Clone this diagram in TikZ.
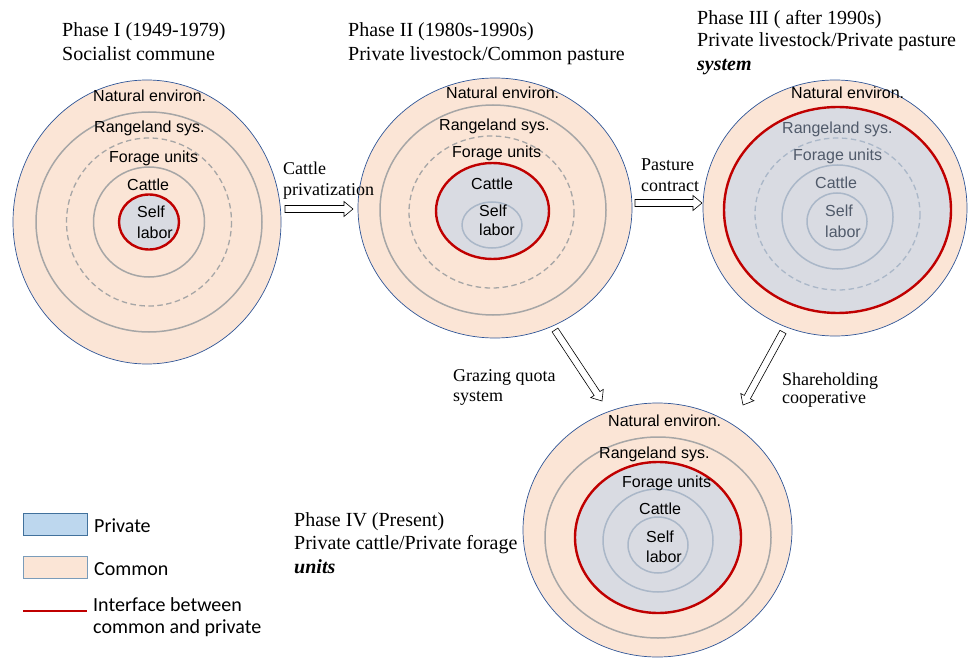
\documentclass[tikz,border=0pt]{standalone}
\usepackage{fontspec}
\setmainfont{Liberation Serif}
\setsansfont{Liberation Sans}
\newfontfamily\legendfont{Carlito}
\usetikzlibrary{calc}

\definecolor{commonfill}{RGB}{251,229,214}
\definecolor{privatefill}{RGB}{217,219,226}
\definecolor{legendblue}{RGB}{189,215,238}
\definecolor{legendedge}{RGB}{65,113,156}
\definecolor{rimblue}{RGB}{47,85,151}
\definecolor{greyline}{RGB}{166,166,166}
\definecolor{slateline}{RGB}{170,183,200}
\definecolor{redline}{RGB}{192,0,0}
\definecolor{fadetext}{RGB}{80,90,106}

% hollow block arrow between two named points
\newcommand{\hollowarrow}[2]{%
  \coordinate (hb) at ($(#2)!9pt!(#1)$);
  \draw[blockarrow] ($(#1)!3.5pt!90:(#2)$) -- ($(hb)!3.5pt!90:(#2)$) -- ($(hb)!7.5pt!90:(#2)$)
    -- (#2) -- ($(hb)!7.5pt!-90:(#2)$) -- ($(hb)!3.5pt!-90:(#2)$) -- ($(#1)!3.5pt!-90:(#2)$) -- cycle;
}

\tikzset{
  commonarea/.style={draw=rimblue, line width=0.7pt, fill=commonfill},
  privatearea/.style={draw=redline, line width=2.4pt, fill=privatefill},
  greyring/.style={draw=greyline, line width=1.5pt},
  greydash/.style={draw=greyline, line width=1.3pt, dash pattern=on 5.5pt off 3.5pt},
  slatering/.style={draw=slateline, line width=1.5pt},
  slatedash/.style={draw=slateline, line width=1.3pt, dash pattern=on 5.5pt off 3.5pt},
  blockarrow/.style={draw=black, line width=0.6pt, fill=white},
  lab/.style={anchor=base west, inner sep=0pt, font=\sffamily\fontsize{16}{20}\selectfont},
  phase/.style={anchor=base west, inner sep=0pt, font=\fontsize{20}{24}\selectfont},
  step label/.style={anchor=base west, inner sep=0pt, font=\fontsize{18}{21}\selectfont},
  legbox/.style={minimum width=64pt, minimum height=22pt, inner sep=0pt, line width=0.8pt},
  legtext/.style={anchor=base west, inner sep=0pt, font=\legendfont\fontsize{20}{23}\selectfont}
}

\begin{document}
\begin{tikzpicture}[x=1pt, y=-1pt]
\useasboundingbox (0,0) rectangle (968,660);

% Phase I
\coordinate (c1) at (149,222);
\draw[commonarea] (147,222) ellipse [x radius=134, y radius=142];
\draw[greyring] (c1) ellipse [x radius=113, y radius=110];
\draw[greydash] (c1) ellipse [x radius=82.5, y radius=84];
\draw[greyring] (c1) ellipse [x radius=55.5, y radius=55];
\draw[privatearea] (c1) ellipse [x radius=30, y radius=27.5];
\foreach \x/\y/\t [count=\i] in {93/102/Natural environ., 94/133/Rangeland sys., 109/163/Forage units, 127/191/Cattle, 137/218/Self, 137/238/labor}
  \node[lab] (one\i) at (\x,\y) {\t};

% Phase II
\coordinate (c2) at (493,210);
\draw[commonarea] (495,208) ellipse [x radius=137, y radius=130];
\draw[greyring] (c2) ellipse [x radius=113, y radius=105];
\draw[greydash] (491.5,212) ellipse [x radius=82.5, y radius=76];
\draw[privatearea] (492.5,211) ellipse [x radius=56.5, y radius=48];
\draw[slatering] (492,225) ellipse [x radius=30, y radius=23];
\foreach \x/\y/\t [count=\i] in {446/99/Natural environ., 439/131/Rangeland sys., 452/158/Forage units, 471/190/Cattle, 479/217/Self, 479/236/labor}
  \node[lab] (two\i) at (\x,\y) {\t};

% Phase III
\coordinate (c3) at (837.5,214);
\draw[commonarea] (835,208) ellipse [x radius=132, y radius=128];
\draw[privatearea] (837.5,210) ellipse [x radius=113.5, y radius=103];
\draw[slatedash] (c3) ellipse [x radius=82.5, y radius=76];
\draw[slatering] (837.5,217) ellipse [x radius=55.5, y radius=52];
\draw[slatering] (837,221.5) ellipse [x radius=30, y radius=28.5];
\node[lab] (three1) at (791,99) {Natural environ.};
\foreach \x/\y/\t [count=\i from 2] in {782/134/Rangeland sys., 793/161/Forage units, 815/189/Cattle, 825/217/Self, 825/237/labor}
  \node[lab, text=fadetext] (three\i) at (\x,\y) {\t};

% Phase IV
\coordinate (c4) at (658,537.5);
\draw[commonarea] (657.5,530) ellipse [x radius=134.5, y radius=127];
\draw[greyring] (c4) ellipse [x radius=113, y radius=100.5];
\draw[privatearea] (c4) ellipse [x radius=83, y radius=75.5];
\draw[slatering] (658,540.5) ellipse [x radius=55, y radius=51.5];
\draw[slatering] (658,545) ellipse [x radius=30, y radius=28];
\foreach \x/\y/\t [count=\i] in {608/426/Natural environ., 599/458/Rangeland sys., 622/487/Forage units, 639/514/Cattle, 646/542/Self, 646/562/labor}
  \node[lab] (four\i) at (\x,\y) {\t};

% phase titles
\node[phase] (ph1a) at (62,37) {Phase I (1949-1979)};
\node[phase] (ph1b) at (62,61) {Socialist commune};
\node[phase] (ph2a) at (348,37) {Phase II (1980s-1990s)};
\node[phase] (ph2b) at (348,61) {Private livestock/Common pasture};
\node[phase] (ph3a) at (697,25) {Phase III ( after 1990s)};
\node[phase] (ph3b) at (697,47) {Private livestock/Private pasture};
\node[phase] (ph3c) at (697,71) {\textbf{\textit{system}}};
\node[phase] (ph4a) at (294,526) {Phase IV (Present)};
\node[phase] (ph4b) at (294,549) {Private cattle/Private forage};
\node[phase] (ph4c) at (294,573) {\textbf{\textit{units}}};

% transitions
\coordinate (s12) at (285,209); \coordinate (e12) at (353,209);
\coordinate (s23) at (635,203); \coordinate (e23) at (702,203);
\coordinate (s24) at (555,330); \coordinate (e24) at (602,401);
\coordinate (s34) at (783,332); \coordinate (e34) at (743,405);
\hollowarrow{s12}{e12}
\hollowarrow{s23}{e23}
\hollowarrow{s24}{e24}
\hollowarrow{s34}{e34}
\node[step label] (t12a) at (283,175) {Cattle};
\node[step label] (t12b) at (283,196) {privatization};
\node[step label] (t23a) at (641,171) {Pasture};
\node[step label] (t23b) at (641,192) {contract};
\node[step label] (t24a) at (453,381) {Grazing quota};
\node[step label] (t24b) at (453,401) {system};
\node[step label] (t34a) at (782,385) {Shareholding};
\node[step label] (t34b) at (782,403) {cooperative};

% legend
\node[legbox, fill=legendblue, draw=legendedge] (privbox) at (55,524) {};
\node[legbox, fill=commonfill, draw=legendedge!70] (combox) at (55,567) {};
\coordinate (redA) at (23,611); \coordinate (redB) at (87,611);
\draw[redline, line width=2.2pt] (redA) -- (redB);
\node[legtext] (privtext) at (94,532) {Private};
\node[legtext] (comtext) at (94,575) {Common};
\node[legtext] (redtext1) at (93,611) {Interface between};
\node[legtext] (redtext2) at (93,633) {common and private};
\end{tikzpicture}
\end{document}
